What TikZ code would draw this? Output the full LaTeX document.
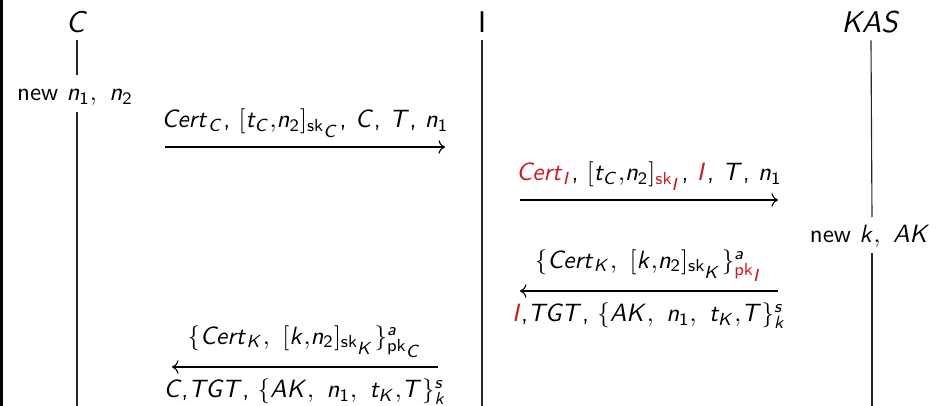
\documentclass[tikz,border=0pt]{standalone}
\usetikzlibrary{arrows.meta}
\DeclareMathAlphabet{\mathsfit}{OT1}{cmss}{m}{sl}
\newcommand{\V}[1]{\mathsfit{#1}}
\newcommand{\U}[1]{\mathsf{#1}}
\newcommand{\Ssub}[1]{{\scriptstyle #1}}
\definecolor{myred}{RGB}{205,25,30}
\begin{document}
\begin{tikzpicture}[x=0.4pt,y=-0.4pt, font=\sffamily,
  life/.style={draw=black!85, line width=0.45pt},
  msg/.style={->, line width=0.45pt},
  head/.style={inner sep=3pt, font=\sffamily\large},
  act/.style={inner sep=2pt},
  up/.style={inner sep=3.6pt, above},
  down/.style={inner sep=4.4pt, below}]
\useasboundingbox (0,0) rectangle (948,406);
\draw[line width=1.3pt] (1.6,0) -- (1.6,406);

% lifeline heads
\node[head] (C) at (77,22) {$\V{C}$};
\node[head] (I) at (482,22) {$\U{I}$};
\node[head] (K) at (871,22) {$\V{KAS}$};

% actions
\node[act] (newC) at (75,97) {new $\V{n}_{\U1},\ \V{n}_{\U2}$};
\node[act] (newK) at (870,236) {new $\V{k},\ \V{AK}$};

% lifeline break points and ends
\coordinate (Cb1) at (77,75);  \coordinate (Cb2) at (77,112);
\coordinate (Kb1) at (872,217); \coordinate (Kb2) at (872,253);
\coordinate (Cend) at (77,406);
\coordinate (Iend) at (482,406);
\coordinate (Kend) at (872,406);

\draw[life] (C.south) -- (Cb1);
\draw[life] (Cb2) -- (Cend);
\draw[life] (I.south) -- (Iend);
\draw[life] (K.south) -- (Kb1);
\draw[life] (Kb2) -- (Kend);

% message endpoints
\coordinate (m1a) at (165,147); \coordinate (m1b) at (445,147);
\coordinate (m2a) at (520,200); \coordinate (m2b) at (778,200);
\coordinate (m3a) at (778,291); \coordinate (m3b) at (520,291);
\coordinate (m4a) at (438,367); \coordinate (m4b) at (172,367);

\draw[msg] (m1a) -- node[up] {$\V{Cert}_{\V{C}}$, $[\V{t}_{\V{C}}{,}\V{n}_{\U2}]_{\U{sk}_{\Ssub{\V{C}}}}$, $\V{C}$, $\V{T}$, $\V{n}_{\U1}$} (m1b);

\draw[msg] (m2a) -- node[up] {$\color{myred}\V{Cert}_{\V{I}}$, $[\V{t}_{\V{C}}{,}\V{n}_{\U2}]_{\color{myred}\U{sk}_{\Ssub{\V{I}}}}$, $\color{myred}\V{I}$, $\V{T}$, $\V{n}_{\U1}$} (m2b);

\draw[msg] (m3a) -- node[up] {$\{\V{Cert}_{\V{K}},\ [\V{k}{,}\V{n}_{\U2}]_{\U{sk}_{\Ssub{\V{K}}}}\}^{\V{a}}_{\color{myred}\U{pk}_{\Ssub{\V{I}}}}$}
  node[down] {$\color{myred}\V{I}$\kern-0.5pt,$\V{TGT}$, $\{\V{AK},\ \V{n}_{\U1},\ \V{t}_{\V{K}}{,}\V{T}\}^{\V{s}}_{\V{k}}$} (m3b);

\draw[msg] (m4a) -- node[up] {$\{\V{Cert}_{\V{K}},\ [\V{k}{,}\V{n}_{\U2}]_{\U{sk}_{\Ssub{\V{K}}}}\}^{\V{a}}_{\U{pk}_{\Ssub{\V{C}}}}$}
  node[down] {$\V{C}$\kern-0.5pt,$\V{TGT}$, $\{\V{AK},\ \V{n}_{\U1},\ \V{t}_{\V{K}}{,}\V{T}\}^{\V{s}}_{\V{k}}$} (m4b);
\end{tikzpicture}
\end{document}
